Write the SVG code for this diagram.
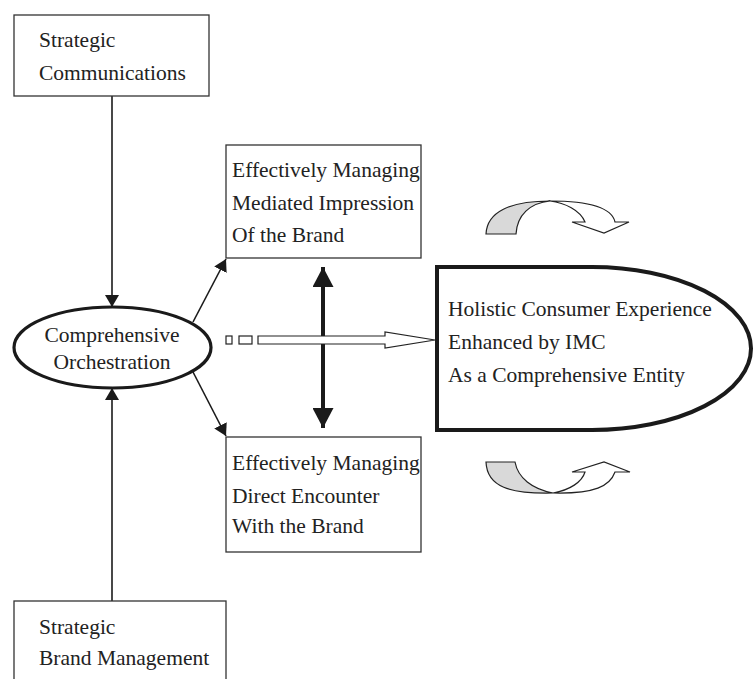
<svg xmlns="http://www.w3.org/2000/svg" width="754" height="679" viewBox="0 0 754 679" font-family="'Liberation Serif', 'Times New Roman', 'DejaVu Serif', serif">
<style>
text{font-family:'Liberation Serif','Times New Roman',serif;font-size:21.5px;fill:#222}
.box{fill:#fff;stroke:#333;stroke-width:1.3}
.ln{stroke:#1a1a1a;stroke-width:1.6;fill:none}
.bold{stroke:#1a1a1a;stroke-width:4;fill:none}
.curl{stroke:#222;stroke-width:1.2}
</style>
<defs>
<marker id="ah" viewBox="0 0 12 14" refX="12" refY="7" markerWidth="12" markerHeight="14" markerUnits="userSpaceOnUse" orient="auto"><path d="M0,0 L12,7 L0,14 Z" fill="#1a1a1a"/></marker>
<marker id="bh" viewBox="0 0 20 21" refX="20" refY="10.5" markerWidth="20" markerHeight="21" markerUnits="userSpaceOnUse" orient="auto"><path d="M0,0 L20,10.5 L0,21 Z" fill="#1a1a1a"/></marker>
</defs>
<g id="connectors">
<line class="ln" x1="112" y1="96" x2="112" y2="307" marker-end="url(#ah)"/>
<line class="ln" x1="112" y1="601" x2="112" y2="388" marker-end="url(#ah)"/>
<line class="ln" x1="193" y1="322" x2="226" y2="259" marker-end="url(#ah)"/>
<line class="ln" x1="193" y1="372" x2="226" y2="436" marker-end="url(#ah)"/>
<line class="bold" x1="323" y1="290" x2="323" y2="267" marker-end="url(#bh)"/>
<line class="bold" x1="323" y1="290" x2="323" y2="428" marker-end="url(#bh)"/>
<g fill="#fff" stroke="#222" stroke-width="1.2">
<rect x="226" y="336" width="6" height="8"/>
<rect x="239" y="336" width="13" height="8"/>
<path d="M258,336 H385 V332 L435,340 L385,348 V344 H258 Z"/>
</g>
</g>
<g id="strategic-communications">
<rect class="box" x="14" y="15" width="195" height="81"/>
<text x="39" y="47">Strategic</text>
<text x="39" y="80">Communications</text>
</g>
<g id="comprehensive-orchestration">
<ellipse cx="112.5" cy="347.5" rx="98.5" ry="40.5" fill="#fff" stroke="#1a1a1a" stroke-width="3.2"/>
<text x="112" y="342" text-anchor="middle">Comprehensive</text>
<text x="112" y="369" text-anchor="middle">Orchestration</text>
</g>
<g id="mediated-impression">
<rect class="box" x="226" y="145" width="195" height="113"/>
<text x="232" y="177">Effectively Managing</text>
<text x="232" y="210">Mediated Impression</text>
<text x="232" y="242">Of the Brand</text>
</g>
<g id="direct-encounter">
<rect class="box" x="226" y="437" width="195" height="115"/>
<text x="232" y="470">Effectively Managing</text>
<text x="232" y="503">Direct Encounter</text>
<text x="232" y="533">With the Brand</text>
</g>
<g id="strategic-brand-management">
<rect class="box" x="14" y="601" width="212" height="90"/>
<text x="39" y="634">Strategic</text>
<text x="39" y="665">Brand Management</text>
</g>
<g id="holistic-experience">
<path d="M437,267 H592 A159,81.5 0 0 1 592,430 H437 Z" fill="#fff" stroke="#1a1a1a" stroke-width="4"/>
<text x="448" y="316">Holistic Consumer Experience</text>
<text x="448" y="349">Enhanced by IMC</text>
<text x="448" y="382">As a Comprehensive Entity</text>
</g>
<g id="curl-top">
<path class="curl" fill="#d9d9d9" d="M486,234 C487,212 510,201 550,201 C530,203 517,215 516,234 Z"/>
<path class="curl" fill="#fff" d="M550,201 C590,201 612,208 615,222 L629,222 L604,233 L572,222 L585,222 C580,210 565,203 550,201 Z"/>
</g>
<g id="curl-bottom">
<path class="curl" fill="#d9d9d9" d="M486,462 H515 C518,478 532,489 553,493 C510,494 487,487 486,462 Z"/>
<path class="curl" fill="#fff" d="M553,493 C570,490 582,482 585,472 L572,472 L604,462 L630,472 L615,472 C610,486 595,494 553,493 Z"/>
</g>
</svg>
